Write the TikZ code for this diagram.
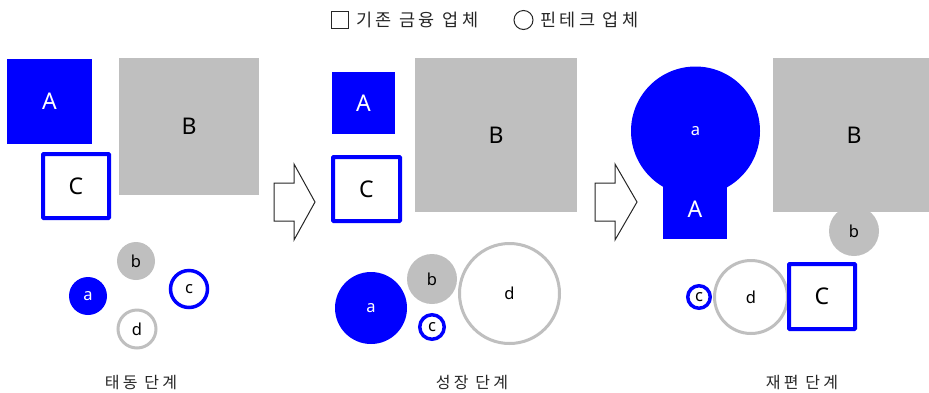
\documentclass[tikz,border=0pt]{standalone}
\usepackage{fontspec}
\setmainfont{Noto Sans}
\newfontfamily\krfont{Noto Sans CJK KR}[LetterSpace=20]
\definecolor{fblue}{RGB}{0,0,255}
\definecolor{fgray}{RGB}{191,191,191}
\tikzset{
  bigtxt/.style={font=\fontsize{23}{23}\selectfont},
  smalltxt/.style={font=\fontsize{16.5}{16.5}\selectfont},
  bluebox/.style={rectangle, fill=fblue, draw=none, text=white, bigtxt, inner sep=0pt},
  graybox/.style={rectangle, fill=fgray, draw=none, text=black, bigtxt, inner sep=0pt},
  blueframe/.style={rectangle, draw=fblue, line width=4pt, fill=white, text=black, bigtxt, inner sep=0pt, rounded corners=0.8pt},
  bluedot/.style={circle, fill=fblue, draw=none, text=white, smalltxt, inner sep=0pt},
  graydot/.style={circle, fill=fgray, draw=none, text=black, smalltxt, inner sep=0pt},
  bluering/.style={circle, draw=fblue, line width=3.5pt, fill=white, text=black, smalltxt, inner sep=0pt},
  grayring/.style={circle, draw=fgray, line width=3pt, fill=white, text=black, smalltxt, inner sep=0pt},
  stagelabel/.style={font=\krfont\fontsize{16}{16}\selectfont, text=black!85, inner sep=0pt},
  legendtxt/.style={font=\krfont\fontsize{17.5}{17.5}\selectfont, text=black!85, inner sep=0pt, anchor=west},
  bigarrow/.style={draw=black!85, line width=1pt, fill=white, line join=miter},
}
\begin{document}
\begin{tikzpicture}[x=1pt,y=-1pt]
\useasboundingbox (0,0) rectangle (929,392);

% legend
\node[draw=black!85, line width=1pt, minimum size=17pt, inner sep=0pt] (lsq) at (340,20) {};
\node[legendtxt] (ltxt1) at (356,20) {기존 금융 업체};
\node[circle, draw=black!85, line width=1pt, minimum size=19pt, inner sep=0pt] (lci) at (523.5,20) {};
\node[legendtxt] (ltxt2) at (540,20) {핀테크 업체};

% ---- panel 1
\node[bluebox, minimum width=85pt, minimum height=85pt] (A1) at (49.5,101.5) {A};
\node[graybox, minimum width=140pt, minimum height=137pt] (B1) at (189,126.5) {B};
\node[blueframe, minimum width=66pt, minimum height=64pt] (C1) at (76,186) {C};
\node[graydot, minimum size=38pt] (b1) at (136,261) {b};
\node[bluedot, minimum size=38pt] (a1) at (88,296) {a};
\node[bluering, minimum size=37pt] (c1) at (189,289) {c};
\node[grayring, minimum size=38pt] (d1) at (137,329) {d};
\node[stagelabel] (s1) at (141,382) {태동 단계};

% arrow 1
\draw[bigarrow] (274,183) -- (294,183) -- (294,164) -- (315,202) -- (294,240) -- (294,221) -- (274,221) -- cycle;

% ---- panel 2
\node[bluebox, minimum width=63pt, minimum height=62pt] (A2) at (363.5,103) {A};
\node[blueframe, minimum width=67pt, minimum height=64pt] (C2) at (366.5,189) {C};
\node[graybox, minimum width=162pt, minimum height=154pt] (B2) at (496,135) {B};
\node[bluedot, minimum size=72pt] (a2) at (371,308) {a};
\node[graydot, minimum size=50pt] (b2) at (432,279) {b};
\node[bluering, minimum size=24.5pt] (c2) at (432,327) {c};
\node[grayring, minimum size=100pt] (d2) at (509.5,293.5) {d};
\node[stagelabel] (s2) at (472,382) {성장 단계};

% arrow 2
\draw[bigarrow] (595,183) -- (615,183) -- (615,164) -- (637,202) -- (615,240) -- (615,221) -- (595,221) -- cycle;

% ---- panel 3
\node[bluedot, minimum size=129pt] (a3) at (695.5,131) {a};
\node[bluebox, minimum width=64pt, minimum height=59pt] (A3) at (695,209.5) {A};
\node[graybox, minimum width=162pt, minimum height=154pt] (B3) at (854,135) {B};
\node[graydot, minimum size=50pt] (b3) at (854,231) {b};
\node[grayring, minimum size=73pt] (d3) at (751,297) {d};
\node[bluering, minimum size=22.5pt] (c3) at (699,297) {c};
\node[blueframe, minimum width=66pt, minimum height=65pt] (C3) at (822,296.5) {C};
\node[stagelabel] (s3) at (802,382) {재편 단계};
\end{tikzpicture}
\end{document}
